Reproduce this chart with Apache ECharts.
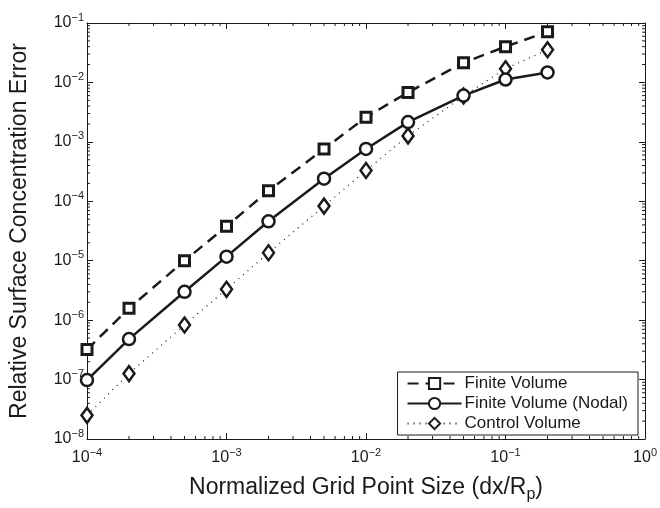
<!DOCTYPE html>
<html>
<head>
<meta charset="utf-8">
<script src="https://cdn.jsdelivr.net/npm/echarts@6/dist/echarts.min.js"></script>
<style>
  html, body { margin: 0; padding: 0; background: #fff; }
  #chart { width: 660px; height: 508px; }
</style>
</head>
<body>
<div id="chart"></div>
<script>
// grid point sizes (dx/Rp)
const gridSizes = [1e-4, 2e-4, 5e-4, 1e-3, 2e-3, 5e-3, 1e-2, 2e-2, 5e-2, 1e-1, 2e-1];
// relative surface concentration error
const finiteVolume = [3.2e-7, 1.58e-6, 1.0e-5, 3.8e-5, 1.5e-4, 7.6e-4, 2.6e-3, 6.8e-3, 2.15e-2, 4.0e-2, 7.1e-2];
const finiteVolumeNodal = [9.8e-8, 4.8e-7, 3.0e-6, 1.17e-5, 4.6e-5, 2.4e-4, 7.6e-4, 2.15e-3, 6.0e-3, 1.12e-2, 1.47e-2];
const controlVolume = [2.5e-8, 1.26e-7, 8.3e-7, 3.3e-6, 1.36e-5, 8.3e-5, 3.3e-4, 1.26e-3, 5.9e-3, 1.7e-2, 3.55e-2];
const seriesNames = ['Finite Volume', 'Finite Volume (Nodal)', 'Control Volume'];

const ink = '#1a1a1a';
const font = 'Liberation Sans, Arial, Helvetica, sans-serif';

function pairs(ys) {
  return gridSizes.map((x, i) => [x, ys[i]]);
}

// minor ticks at 2..9 x 10^k (the log axis cannot do these itself)
const xMinor = [], yMinor = [];
for (let e = -4; e < 0; e++) for (let m = 2; m <= 9; m++) xMinor.push([m * Math.pow(10, e), 1e-5]);
for (let e = -8; e < -1; e++) for (let m = 2; m <= 9; m++) yMinor.push([1e-2, m * Math.pow(10, e)]);

function tickLine(x1, y1, x2, y2) {
  return { type: 'line', shape: { x1: x1, y1: y1, x2: x2, y2: y2 }, style: { stroke: ink, lineWidth: 1 } };
}

function powLabel(v) {
  const e = Math.round(Math.log10(v));
  const s = e < 0 ? '\u2212' + (-e) : String(e);
  return '{b|10}{e|' + s + '}';
}

const labelRich = {
  b: { fontSize: 16, fontFamily: font, color: ink },
  e: { fontSize: 11, fontFamily: font, color: ink, padding: [0, 0, 11, 0] }
};

const chart = echarts.init(document.getElementById('chart'));

const option = {
  backgroundColor: '#fff',
  animation: false,
  grid: { left: 85, right: 14, top: 23, bottom: 65, show: false },
  legend: {
    data: seriesNames,
    orient: 'vertical',
    right: 22,
    bottom: 73,
    width: 238,
    backgroundColor: '#fff',
    borderColor: ink,
    borderWidth: 1,
    borderRadius: 0,
    padding: [3, 10, 3, 9],
    itemWidth: 54,
    itemHeight: 14,
    itemGap: 3,
    textStyle: { fontSize: 17, color: ink, fontFamily: font, padding: [0, 0, 0, -2] }
  },
  xAxis: [{
    type: 'log',
    min: 1e-4,
    max: 1,
    name: 'Normalized Grid Point Size (dx/R{s|p})',
    nameLocation: 'middle',
    nameGap: 34,
    nameTextStyle: {
      fontSize: 23, color: ink, fontFamily: font,
      rich: { s: { fontSize: 16, fontFamily: font, color: ink, padding: [14, 0, 0, 0] } }
    },
    axisLine: { lineStyle: { color: ink, width: 1 } },
    axisTick: { inside: true, length: 6, lineStyle: { color: ink } },
    axisLabel: { margin: 8, formatter: powLabel, rich: labelRich },
    splitLine: { show: false }
  }, {
    type: 'log',
    min: 1e-4,
    max: 1,
    position: 'top',
    axisLine: { lineStyle: { color: ink, width: 1 } },
    axisTick: { inside: true, length: 6, lineStyle: { color: ink } },
    axisLabel: { show: false },
    splitLine: { show: false }
  }],
  yAxis: [{
    type: 'log',
    min: 1e-8,
    max: 1e-1,
    name: 'Relative Surface Concentration Error',
    nameLocation: 'middle',
    nameGap: 56,
    nameRotate: 90,
    nameTextStyle: { fontSize: 23, color: ink, fontFamily: font },
    axisLine: { lineStyle: { color: ink, width: 1 } },
    axisTick: { inside: true, length: 6, lineStyle: { color: ink } },
    axisLabel: { margin: 3, formatter: powLabel, rich: labelRich },
    splitLine: { show: false }
  }, {
    type: 'log',
    min: 1e-8,
    max: 1e-1,
    position: 'right',
    axisLine: { lineStyle: { color: ink, width: 1 } },
    axisTick: { inside: true, length: 6, lineStyle: { color: ink } },
    axisLabel: { show: false },
    splitLine: { show: false }
  }],
  series: [
    {
      name: 'Finite Volume',
      type: 'line',
      data: pairs(finiteVolume),
      symbol: 'rect',
      symbolSize: 10,
      showAllSymbol: true,
      lineStyle: { color: ink, width: 2.5, type: [11, 7] },
      itemStyle: { color: '#fff', borderColor: ink, borderWidth: 3 },
      z: 4
    },
    {
      name: 'Finite Volume (Nodal)',
      type: 'line',
      data: pairs(finiteVolumeNodal),
      symbol: 'circle',
      symbolSize: 12,
      showAllSymbol: true,
      lineStyle: { color: ink, width: 2.5, type: 'solid' },
      itemStyle: { color: '#fff', borderColor: ink, borderWidth: 2.5 },
      z: 3
    },
    {
      name: 'Control Volume',
      type: 'line',
      data: pairs(controlVolume),
      symbol: 'diamond',
      symbolSize: [11, 15],
      showAllSymbol: true,
      lineStyle: { color: ink, width: 1.2, type: [1, 5] },
      itemStyle: { color: '#fff', borderColor: ink, borderWidth: 2.5 },
      z: 2
    },
    {
      type: 'custom',
      silent: true,
      data: xMinor,
      renderItem: function (params, api) {
        const cs = params.coordSys;
        const x = api.coord([api.value(0), api.value(1)])[0];
        const b = cs.y + cs.height;
        return {
          type: 'group',
          children: [tickLine(x, b, x, b - 3), tickLine(x, cs.y, x, cs.y + 3)]
        };
      },
      z: 1
    },
    {
      type: 'custom',
      silent: true,
      data: yMinor,
      renderItem: function (params, api) {
        const cs = params.coordSys;
        const y = api.coord([api.value(0), api.value(1)])[1];
        const r = cs.x + cs.width;
        return {
          type: 'group',
          children: [tickLine(cs.x, y, cs.x + 3, y), tickLine(r, y, r - 3, y)]
        };
      },
      z: 1
    }
  ]
};

chart.setOption(option);
</script>
</body>
</html>
